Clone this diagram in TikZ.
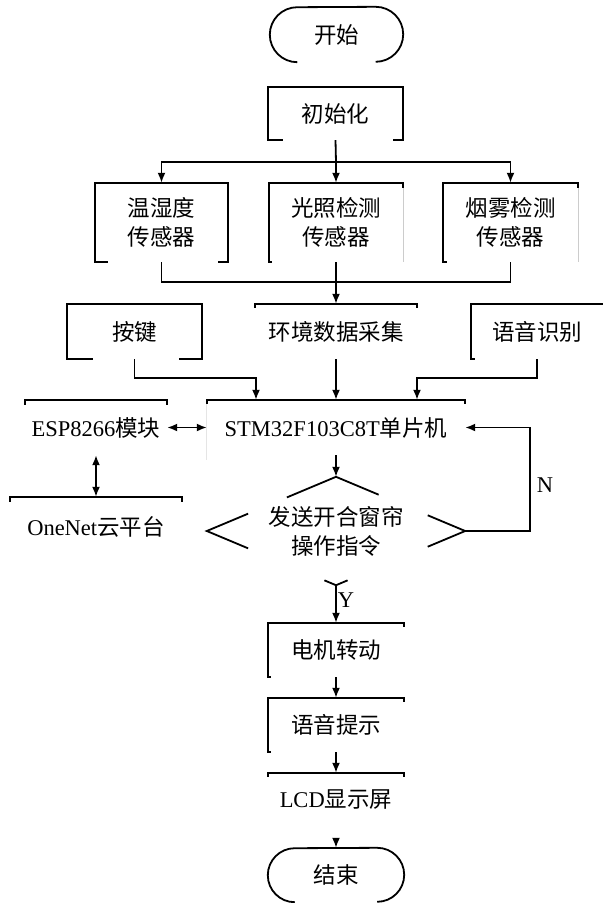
\documentclass[tikz,border=0pt]{standalone}
\usepackage{fontspec}
\setmainfont{Liberation Serif}
\newfontfamily\zhfont{Noto Sans CJK SC}
\usetikzlibrary{arrows.meta,calc}
\begin{document}
\begin{tikzpicture}[x=1pt,y=-1pt,
  ln/.style={line width=1.8pt},
  arr/.style={ln,-{Latex[length=10pt,width=8pt]}},
  darr/.style={ln,{Latex[length=10pt,width=8pt]}-{Latex[length=10pt,width=8pt]}},
  faint/.style={line width=1pt,gray!40},
  blk/.style={rectangle,inner sep=0pt,align=center,font=\fontsize{22.5}{29}\selectfont\zhfont},
  lat/.style={rectangle,inner sep=0pt,align=center,font=\fontsize{22.5}{29}\selectfont}]
\useasboundingbox[fill=white] (0,0) rectangle (603,903);

% start
\node[blk,minimum width=133pt,minimum height=55pt] (start) at (336.5,34.5) {开始};
\draw[ln] ([xshift=27.5pt]start.south west) arc[start angle=270,end angle=90,radius=27.5pt]
  -- ([xshift=-27.5pt]start.north east) arc[start angle=90,end angle=-90,radius=27.5pt];

% init
\node[blk,minimum width=135pt,minimum height=53pt] (init) at (335.5,113.5) {初始化};
\draw[ln] ([xshift=15pt]init.south west) -- (init.south west) -- (init.north west) -- (init.north east) -- (init.south east) -- ([xshift=-10pt]init.south east);

% sensors
\node[blk,minimum width=133pt,minimum height=79pt] (temp) at (161.5,222.5) {温湿度\\传感器};
\draw[ln] ([xshift=13pt]temp.south west) -- (temp.south west) -- (temp.north west) -- (temp.north east) -- (temp.south east) -- ([xshift=-10pt]temp.south east);

\node[blk,minimum width=134pt,minimum height=79pt] (light) at (336,222.5) {光照检测\\传感器};
\draw[ln] ([xshift=3pt]light.south west) -- (light.south west) -- (light.north west) -- (light.north east) -- ([yshift=-5pt]light.north east);
\draw[faint] ([yshift=-5pt]light.north east) -- (light.south east);

\node[blk,minimum width=135pt,minimum height=79pt] (smoke) at (510.5,222.5) {烟雾检测\\传感器};
\draw[ln] ([xshift=4pt]smoke.south west) -- (smoke.south west) -- (smoke.north west) -- (smoke.north east) -- ([yshift=-5pt]smoke.north east);
\draw[faint] ([yshift=-5pt]smoke.north east) -- (smoke.south east);

\coordinate (b1) at (336,162);
\draw[ln] (init.south) -- (b1);
\draw[arr] (b1) -| (temp.north);
\draw[arr] (b1) -- (light.north);
\draw[arr] (b1) -| (smoke.north);

% row 3
\node[blk,minimum width=135pt,minimum height=55pt] (key) at (134.5,331.5) {按键};
\draw[ln] ([xshift=26pt]key.south west) -- (key.south west) -- (key.north west) -- (key.north east) -- (key.south east) -- ([xshift=-23pt]key.south east);

\node[blk,minimum width=162pt,minimum height=55pt] (env) at (336,331.5) {环境数据采集};
\draw[ln] ([yshift=-4pt]env.north west) -- (env.north west) -- (env.north east) -- ([yshift=-4pt]env.north east);

\node[blk,minimum width=132pt,minimum height=55pt] (voice) at (537,331.5) {语音识别};
\draw[ln] ([xshift=4pt]voice.south west) -- (voice.south west) -- (voice.north west) -- (voice.north east);

\coordinate (b2) at (336,282);
\draw[ln] (temp.south) |- (b2);
\draw[ln] (smoke.south) |- (b2);
\draw[ln] (light.south) -- (b2);
\draw[arr] (b2) -- (env.north);

% MCU row
\node[lat,minimum width=258pt,minimum height=55pt] (stm) at (336,427.5) {STM32F103C8T{\zhfont 单片机}};
\draw[ln] ([yshift=-4pt]stm.north west) -- (stm.north west) -- (stm.north east) -- ([yshift=-4pt]stm.north east);
\draw[faint,gray!20] ([yshift=-4pt]stm.north west) -- ([yshift=-60pt]stm.north west);

\draw[arr] (key.south) -- ++(0,19) -| ([xshift=-80pt]stm.north);
\draw[arr] (env.south) -- (stm.north);
\draw[arr] (voice.south) -- ++(0,19) -| ([xshift=81pt]stm.north);

\node[lat,minimum width=142pt,minimum height=55pt] (esp) at (96,427.5) {ESP8266{\zhfont 模块}};
\draw[ln] ([yshift=-5pt]esp.north west) -- (esp.north west) -- (esp.north east) -- ([yshift=-5pt]esp.north east);
\draw[darr] (esp.east) -- (stm.west);

\node[lat,minimum width=172pt,minimum height=60pt] (cloud) at (96,527) {OneNet{\zhfont 云平台}};
\draw[ln] ([yshift=-5pt]cloud.north west) -- (cloud.north west) -- (cloud.north east) -- ([yshift=-5pt]cloud.north east);
\draw[darr] (esp.south) -- (cloud.north);

% decision
\node[blk,minimum width=258pt,minimum height=108pt] (dec) at (336,531) {发送开合窗帘\\操作指令};
\draw[ln] ($(dec.north)!0.38!(dec.west)$) -- (dec.north) -- ($(dec.north)!0.33!(dec.east)$);
\draw[ln] ($(dec.west)!0.32!(dec.north)$) -- (dec.west) -- ($(dec.west)!0.32!(dec.south)$);
\draw[ln] ($(dec.east)!0.29!(dec.north)$) -- (dec.east) -- ($(dec.east)!0.29!(dec.south)$);
\draw[ln] ($(dec.south)!0.09!(dec.west)$) -- (dec.south) -- ($(dec.south)!0.09!(dec.east)$);

\draw[arr] (stm.south) -- (dec.north);
\coordinate (fb) at (530,531);
\draw[arr] (dec.east) -- (fb) |- node[lat,pos=0.22,right=6pt] {N} (stm.east);

% lower chain
\node[blk,minimum width=136pt,minimum height=54pt] (motor) at (336,650) {电机转动};
\draw[ln] ([xshift=3pt]motor.south west) -- (motor.south west) -- (motor.north west) -- (motor.north east) -- ([yshift=-4pt]motor.north east);
\draw[arr] (dec.south) -- node[lat,pos=0.4,right=1pt] {Y} (motor.north);

\node[blk,minimum width=136pt,minimum height=54pt] (prompt) at (336,725) {语音提示};
\draw[ln] ([xshift=3pt]prompt.south west) -- (prompt.south west) -- (prompt.north west) -- (prompt.north east) -- ([yshift=-4pt]prompt.north east);
\draw[arr] (motor.south) -- (prompt.north);

\node[lat,minimum width=136pt,minimum height=54pt] (lcd) at (336,800) {LCD{\zhfont 显示屏}};
\draw[ln] ([yshift=-4pt]lcd.north west) -- (lcd.north west) -- (lcd.north east) -- ([yshift=-4pt]lcd.north east);
\draw[arr] (prompt.south) -- (lcd.north);

\node[blk,minimum width=136pt,minimum height=54pt] (stop) at (336,875) {结束};
\draw[ln] ([xshift=27pt]stop.south west) arc[start angle=270,end angle=90,radius=27pt]
  -- ([xshift=-27pt]stop.north east) arc[start angle=90,end angle=-90,radius=27pt];
\draw[arr,shorten <=12pt] (lcd.south) -- (stop.north);
\end{tikzpicture}
\end{document}
